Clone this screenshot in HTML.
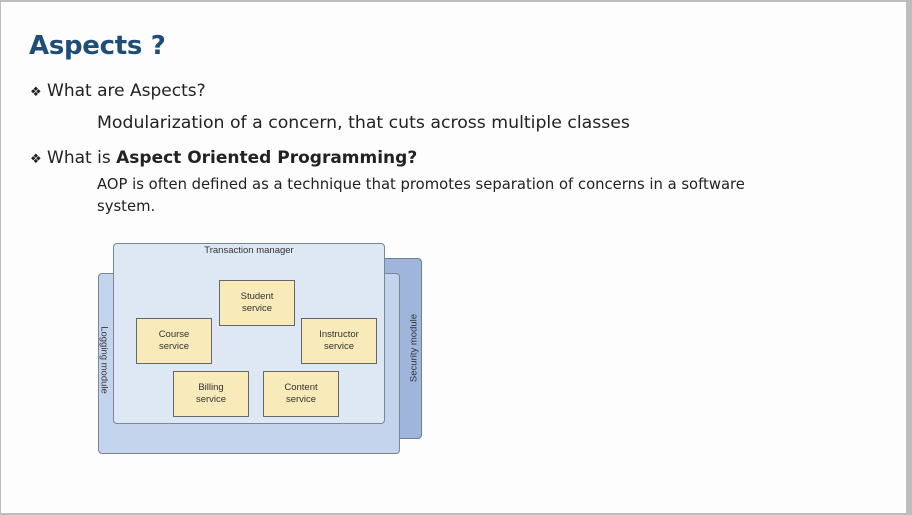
<!DOCTYPE html>
<html><head><style>
body{margin:0;width:912px;height:515px;background:#bdbdbd;position:relative;overflow:hidden;font-family:"DejaVu Sans","Liberation Sans",sans-serif;}
.pg{position:absolute;left:1px;top:2px;width:905px;height:511px;background:#fdfdfd;}
.t{position:absolute;white-space:nowrap;color:#222;}
.r{position:absolute;box-sizing:border-box;border-radius:4px;}
.b{position:absolute;box-sizing:border-box;background:#f8eab9;border:1.5px solid #666;font-family:"Liberation Sans",sans-serif;font-size:9.5px;color:#333;text-align:center;display:flex;align-items:center;justify-content:center;line-height:12px;}
</style></head><body>
<div class="pg"></div>
<div class="t" style="left:29px;top:31px;font-size:26px;font-weight:bold;color:#1e4d78;letter-spacing:-0.3px;">Aspects ?</div>
<div class="t" style="left:30px;top:81px;font-size:17px;"><span style="font-size:13px">❖</span> What are Aspects?</div>
<div class="t" style="left:97px;top:113px;font-size:17.3px;">Modularization of a concern, that cuts across multiple classes</div>
<div class="t" style="left:30px;top:148px;font-size:17px;"><span style="font-size:13px">❖</span> What is <b>Aspect Oriented Programming?</b></div>
<div class="t" style="left:97px;top:176px;font-size:14.8px;">AOP is often defined as a technique that promotes separation of concerns in a software</div>
<div class="t" style="left:97px;top:198px;font-size:14.8px;">system.</div>

<div class="r" style="left:380px;top:258px;width:42px;height:181px;background:#9fb5dc;border:1.5px solid #6f7f99;"></div>
<div class="t" style="left:414px;top:348px;font-size:9.5px;font-family:'Liberation Sans',sans-serif;color:#333;transform:translate(-50%,-50%) rotate(-90deg);">Security module</div>
<div class="r" style="left:98px;top:273px;width:302px;height:181px;background:#c4d4ec;border:1.5px solid #7a8596;"></div>
<div class="t" style="left:104px;top:360px;font-size:9.5px;font-family:'Liberation Sans',sans-serif;color:#333;transform:translate(-50%,-50%) rotate(90deg);">Logging module</div>
<div class="r" style="left:113px;top:243px;width:272px;height:181px;background:#dee7f4;border:1.5px solid #7a8596;"></div>
<div class="t" style="left:249px;top:245px;font-size:9.5px;font-family:'Liberation Sans',sans-serif;color:#333;transform:translateX(-50%);">Transaction manager</div>

<div class="b" style="left:219px;top:280px;width:76px;height:46px;">Student<br>service</div>
<div class="b" style="left:136px;top:318px;width:76px;height:46px;">Course<br>service</div>
<div class="b" style="left:301px;top:318px;width:76px;height:46px;">Instructor<br>service</div>
<div class="b" style="left:173px;top:371px;width:76px;height:46px;">Billing<br>service</div>
<div class="b" style="left:263px;top:371px;width:76px;height:46px;">Content<br>service</div>
</body></html>
